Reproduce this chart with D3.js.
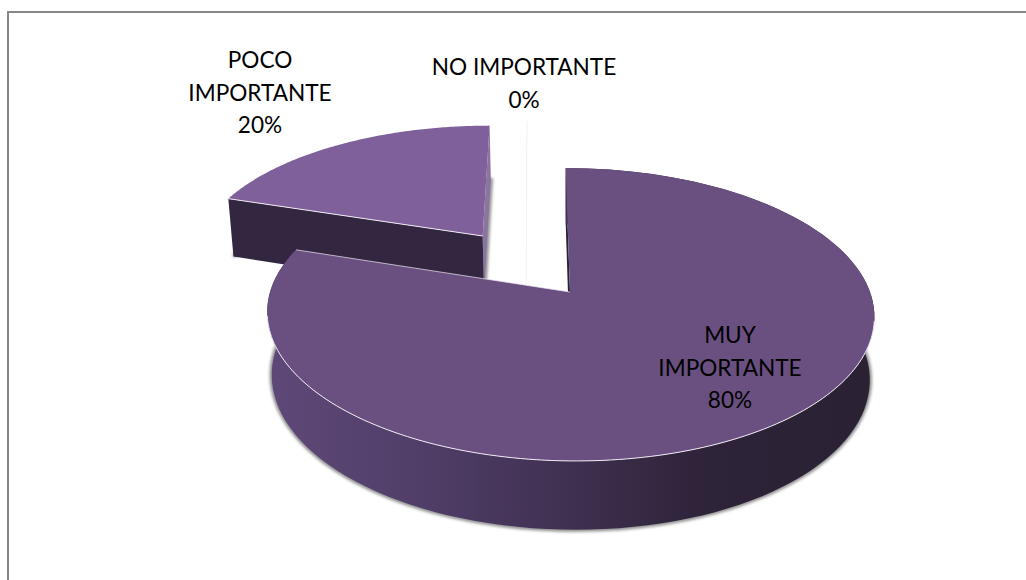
<!DOCTYPE html>
<html>
<head>
<meta charset="utf-8">
<script src="https://cdn.jsdelivr.net/npm/d3@7"></script>
<style>
  html, body { margin: 0; background: #fff; }
  text { font-family: Lato, "Open Sans", sans-serif; font-size: 22.6px; fill: #000; text-anchor: middle; }
</style>
</head>
<body>
<div id="graph"></div>
<script>
// chart data
var categories = ["MUY IMPORTANTE", "POCO IMPORTANTE", "NO IMPORTANTE"];
var values = [80, 20, 0];
var labelLines = [["MUY", "IMPORTANTE", "80%"], ["POCO", "IMPORTANTE", "20%"], ["NO IMPORTANTE", "0%"]];

var width = 1026, height = 580;

// exploded slices: direction in degrees and distance in radius units
var explodeDir = [0, 324, 342];
var explodeDist = [0, 0.515, 0.49];

// where each label block sits, centre x and first baseline
var labelX = [730, 260, 524];
var labelY = [343, 68, 75];
var lineGap = 32.5;

// the perspective of the pie plate
var cx = 570, cy = 292, rx = 300, ry = 143, skew = 5, persp = 0.1536;
var depth = 62, depthPersp = 0.099, lowerShrink = 0.985;

function project(u, v, down) {
  var den = 1 - persp * v;
  var x = (rx * u + skew * v) / den;
  return [
    cx + (down ? x * lowerShrink : x),
    cy + ry * v / den + (down ? depth / (1 - depthPersp * v) : 0)
  ];
}

var svg = d3.select("#graph")
  .append("svg")
    .attr("width", width)
    .attr("height", height);

var defs = svg.append("defs");
defs.append("filter").attr("id", "blur")
    .attr("x", "-10%").attr("y", "-10%").attr("width", "120%").attr("height", "120%")
  .append("feGaussianBlur").attr("stdDeviation", 1.8);

var wallGrad = defs.append("linearGradient").attr("id", "wall")
    .attr("gradientUnits", "userSpaceOnUse")
    .attr("x1", 268).attr("x2", 876).attr("y1", 0).attr("y2", 0);
[[0, "#5e4878"], [0.25, "#503e68"], [0.5, "#3f3050"], [0.72, "#2e2339"], [1, "#2a2133"]].forEach(function (s) {
  wallGrad.append("stop").attr("offset", s[0]).attr("stop-color", s[1]);
});

// frame, only top and left are in the picture
svg.append("path")
    .attr("d", "M8,580V12H1026")
    .attr("fill", "none")
    .attr("stroke", "#868686")
    .attr("stroke-width", 2);

var pie = d3.pie().sort(null).value(function (d) { return d; });
var arcs = pie(values);
var line = d3.line();

// slice helpers, all points come from the pie angles
function offset(i) {
  var a = explodeDir[i] * Math.PI / 180;
  return [Math.sin(a) * explodeDist[i], -Math.cos(a) * explodeDist[i]];
}
function rim(i, a, down) {
  var o = offset(i);
  return project(Math.sin(a) + o[0], -Math.cos(a) + o[1], down);
}
function apex(i, down) {
  var o = offset(i);
  return project(o[0], o[1], down);
}
function rimPoints(i, a0, a1, down) {
  var n = 120;
  return d3.range(n + 1).map(function (k) {
    return rim(i, a0 + (a1 - a0) * k / n, down);
  });
}
function topFace(i) {
  var d = arcs[i];
  return rimPoints(i, d.startAngle, d.endAngle, false).concat([apex(i, false)]);
}
function sideWall(i) {
  var d = arcs[i];
  return rimPoints(i, d.startAngle, d.endAngle, false)
    .concat(rimPoints(i, d.startAngle, d.endAngle, true).reverse());
}
function radialWall(i, a) {
  return [rim(i, a, false), apex(i, false), apex(i, true), rim(i, a, true)];
}
function lowerOutline(i) {
  var d = arcs[i];
  return rimPoints(i, d.startAngle, d.endAngle, true).concat([apex(i, true)]);
}

var shadow = svg.append("g")
    .attr("filter", "url(#blur)")
    .attr("fill", "none")
    .attr("stroke", "#8a8a8a")
    .attr("stroke-width", 4);

// POCO IMPORTANTE, sits behind the big slice
var poco = arcs[1];
shadow.append("path").attr("d", line(lowerOutline(1)));
svg.append("path").attr("d", line(radialWall(1, poco.endAngle)) + "Z").attr("fill", "#8a759f");
svg.append("path").attr("d", line(radialWall(1, poco.startAngle)) + "Z").attr("fill", "#332640");
svg.append("path").attr("d", line(topFace(1)) + "Z").attr("fill", "#7f609b");
svg.append("path")
    .attr("d", line([rim(1, poco.startAngle, false), apex(1, false)]))
    .attr("fill", "none").attr("stroke", "#efeaf3").attr("stroke-width", 1);

// NO IMPORTANTE has no area, only a faint edge
var no = arcs[2];
svg.append("path")
    .attr("d", line([rim(2, no.startAngle, false), apex(2, true)]))
    .attr("fill", "none").attr("stroke", "#efefef").attr("stroke-width", 1);

// MUY IMPORTANTE
var muy = arcs[0];
shadow.append("path").attr("d", line(rimPoints(0, 1.5, 5.0, true)));
svg.append("path").attr("d", line(radialWall(0, muy.startAngle)) + "Z").attr("fill", "#2a2133");
svg.append("path").attr("d", line(sideWall(0)) + "Z").attr("fill", "url(#wall)");
svg.append("path").attr("d", line(topFace(0)) + "Z").attr("fill", "#6a5080");
svg.append("path")
    .attr("d", line(rimPoints(0, 1.77, 4.55, false)))
    .attr("fill", "none").attr("stroke", "#efeaf3").attr("stroke-width", 1);
svg.append("path")
    .attr("d", line([apex(0, false), rim(0, muy.endAngle, false)]))
    .attr("fill", "none").attr("stroke", "#efeaf3").attr("stroke-width", 0.7);

// labels
categories.forEach(function (c, i) {
  var t = svg.append("text").attr("aria-label", c);
  labelLines[i].forEach(function (s, j) {
    t.append("tspan")
      .attr("x", labelX[i])
      .attr("y", labelY[i] + j * lineGap)
      .text(s);
  });
});
</script>
</body>
</html>
